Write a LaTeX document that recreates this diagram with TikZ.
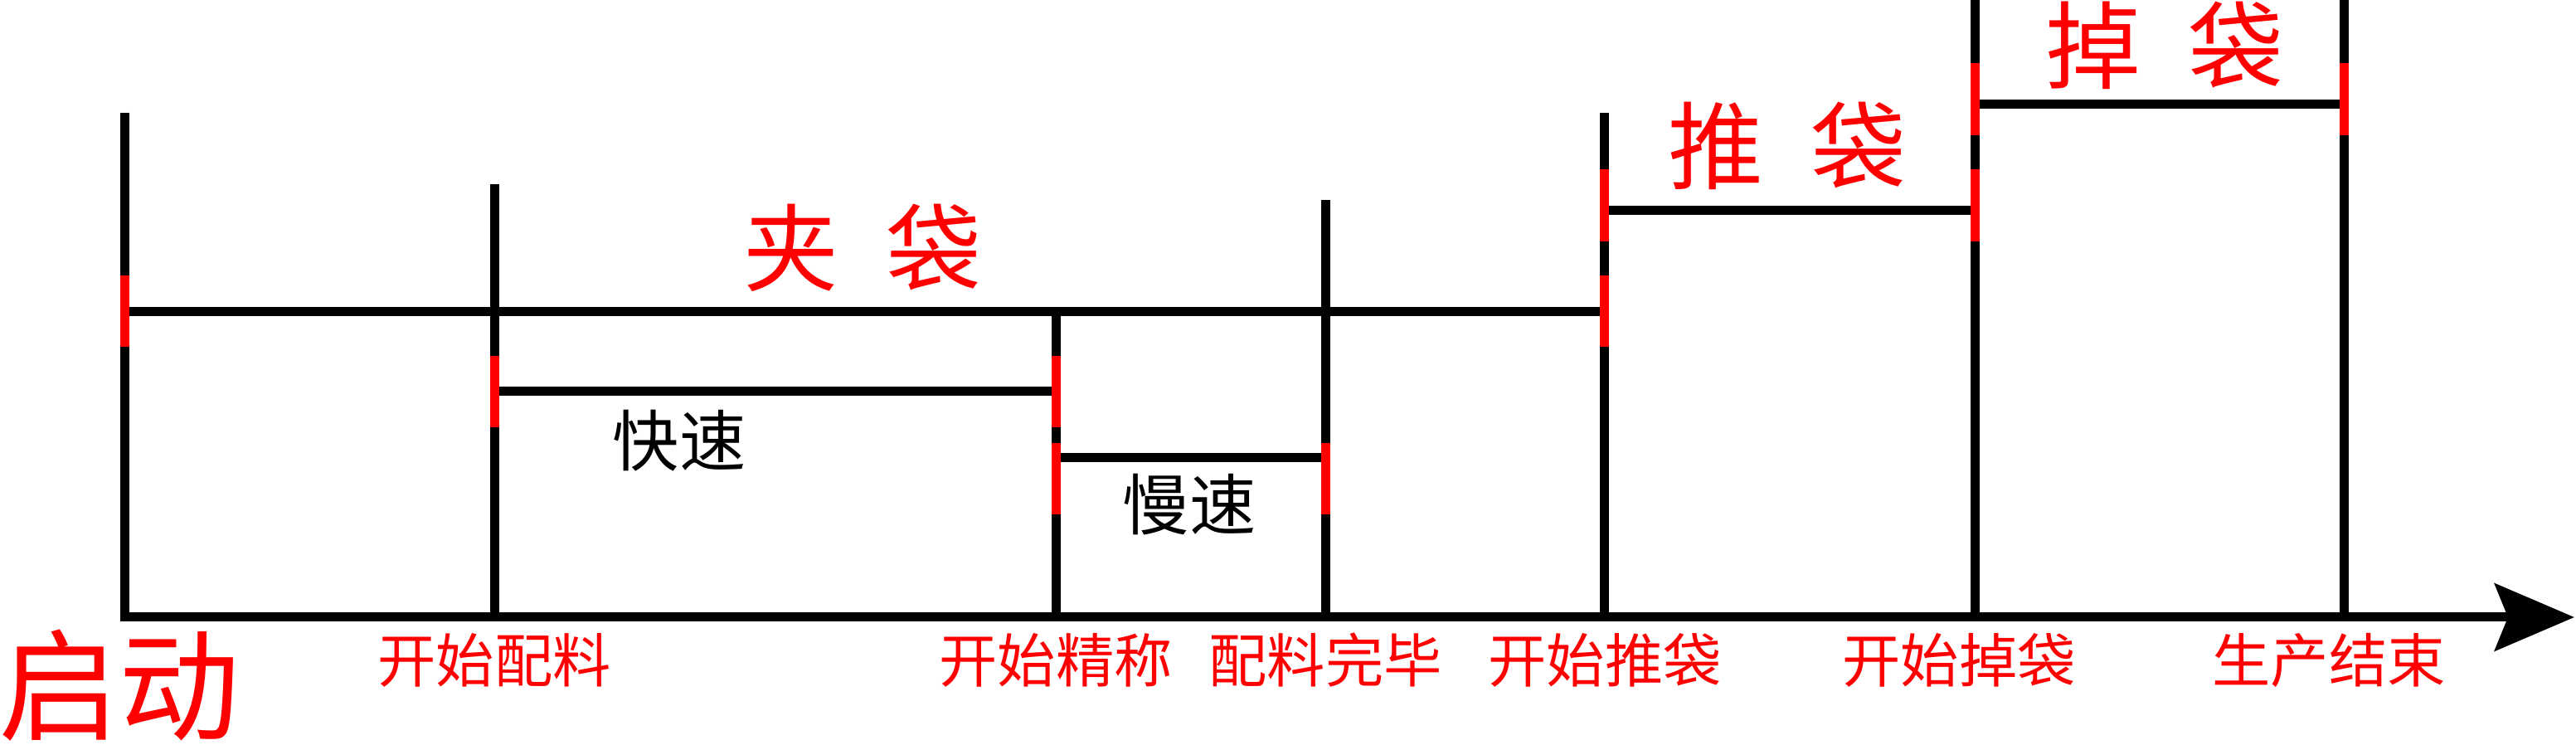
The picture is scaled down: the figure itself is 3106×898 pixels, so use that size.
\documentclass[tikz,border=0pt]{standalone}
\usepackage{fontspec}
\newfontfamily\cjk{Noto Sans CJK SC}
\usetikzlibrary{arrows.meta}

\begin{document}
\begin{tikzpicture}[x=0.1mm,y=-0.1mm,line width=1.1mm,
  redseg/.style={red,line width=1.1mm},
  evlabel/.style={red,inner sep=0,font=\cjk\fontsize{20pt}{20pt}\selectfont},
  actlabel/.style={red,inner sep=0,font=\cjk\fontsize{32.7pt}{33pt}\selectfont},
  speedlabel/.style={black,inner sep=0,font=\cjk\fontsize{22.8pt}{23pt}\selectfont}]
 \useasboundingbox (0,0) rectangle (3106,898);
 % ticks on the time axis
 \coordinate (t0) at (150,744);
 \coordinate (t1) at (596,744);
 \coordinate (t2) at (1273,744);
 \coordinate (t3) at (1598,744);
 \coordinate (t4) at (1934,744);
 \coordinate (t5) at (2381,744);
 \coordinate (t6) at (2826,744);
 \draw[-{Stealth[length=9.6mm,width=8.1mm,inset=1.6mm]}] (150,136) -- (t0) -- (3104,744);
 \draw (t1) -- (596,222);
 \draw (t2) -- (1273,376);
 \draw (t3) -- (1598,241);
 \draw (t4) -- (1934,136);
 \draw (t5) -- (2381,0);
 \draw (t6) -- (2826,0);
 % levels
 \draw (150,376) -- (1934,376);
 \draw (596,472) -- (1273,472);
 \draw (1273,552) -- (1598,552);
 \draw (1934,254) -- (2381,254);
 \draw (2381,126) -- (2826,126);
 % switching marks
 \foreach \x/\a/\b in {150/332/418, 596/429/515, 1273/429/515, 1273/534/620,
   1598/534/620, 1934/204/291, 1934/332/418, 2381/76/163, 2381/204/291, 2826/76/163}
  \draw[redseg] (\x,\a) -- (\x,\b);
 % texts
 \node[red,inner sep=0,font=\cjk\fontsize{41.5pt}{42pt}\selectfont] (qidong) at (144,826) {启动};
 \node[evlabel] (kspl) at (596,796) {开始配料};
 \node[evlabel] (ksjc) at (1273,796) {开始精称};
 \node[evlabel] (plwb) at (1598,796) {配料完毕};
 \node[evlabel] (kstd) at (1935,796) {开始推袋};
 \node[evlabel] (ksdd) at (2362,796) {开始掉袋};
 \node[evlabel] (scjs) at (2808,796) {生产结束};
 \node[actlabel] (jiadai) at (1040,299) {夹\hspace{0.5em}袋};
 \node[actlabel] (tuidai) at (2155,176) {推\hspace{0.5em}袋};
 \node[actlabel] (diaodai) at (2610,55) {掉\hspace{0.5em}袋};
 \node[speedlabel] (kuaisu) at (819,531) {快速};
 \node[speedlabel] (mansu) at (1434,608) {慢速};
\end{tikzpicture}
\end{document}
